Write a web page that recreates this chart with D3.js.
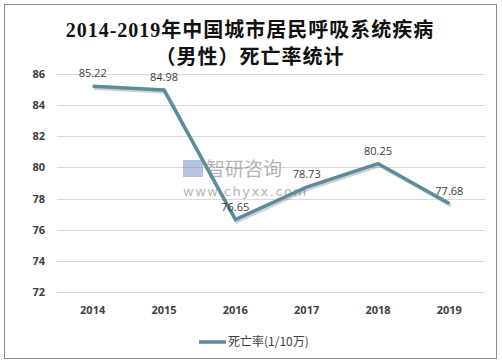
<!DOCTYPE html>
<html>
<head>
<meta charset="utf-8">
<script src="https://cdn.jsdelivr.net/npm/d3@7"></script>
<style>
  body { margin: 0; background: #fff; }
  svg { display: block; }
</style>
</head>
<body>
<script>
const years = ['2014', '2015', '2016', '2017', '2018', '2019'];
const rates = [85.22, 84.98, 76.65, 78.73, 80.25, 77.68];
const yTicks = [72, 74, 76, 78, 80, 82, 84, 86];
const titleLines = ['2014-2019年中国城市居民呼吸系统疾病', '（男性）死亡率统计'];
const seriesName = '死亡率(1/10万)';

const width = 502, height = 364;
const margin = {left: 57, right: 17, top: 74, bottom: 72};
const lineColor = '#5a8c9c';

const svg = d3.select('body').append('svg')
    .attr('width', width)
    .attr('height', height);

// frame
svg.append('rect')
    .attr('x', 4.5).attr('y', 4.5)
    .attr('width', 492).attr('height', 354)
    .attr('fill', '#fff')
    .attr('stroke', '#8a8a8a');

// title
svg.append('g').selectAll('text')
    .data(titleLines)
    .enter()
    .append('text')
    .attr('x', 250)
    .attr('y', (d, i) => 37 + i * 27)
    .attr('text-anchor', 'middle')
    .attr('font-family', '"Liberation Serif", "Noto Sans CJK SC", serif')
    .attr('font-size', 20)
    .attr('letter-spacing', 1)
    .attr('font-weight', 'bold')
    .attr('fill', '#111')
    .text(d => d);

const x = d3.scaleBand()
    .domain(years)
    .range([margin.left, width - margin.right]);

const y = d3.scaleLinear()
    .domain([72, 86])
    .range([height - margin.bottom, margin.top]);

// gridlines
svg.append('g').selectAll('line')
    .data(yTicks)
    .enter()
    .append('line')
    .attr('x1', margin.left)
    .attr('x2', width - margin.right)
    .attr('y1', d => Math.round(y(d)) + 0.5)
    .attr('y2', d => Math.round(y(d)) + 0.5)
    .attr('stroke', '#d9d9d9');

// y labels
svg.append('g').selectAll('text')
    .data(yTicks)
    .enter()
    .append('text')
    .attr('x', 45)
    .attr('y', d => y(d) + 4)
    .attr('text-anchor', 'end')
    .attr('font-family', '"Open Sans", "DejaVu Sans", sans-serif')
    .attr('font-size', 11)
    .attr('font-weight', 'bold')
    .attr('fill', '#404040')
    .text(d => d);

// x labels
svg.append('g').selectAll('text')
    .data(years)
    .enter()
    .append('text')
    .attr('x', d => x(d) + x.bandwidth() / 2)
    .attr('y', height - margin.bottom + 22)
    .attr('text-anchor', 'middle')
    .attr('font-family', '"Open Sans", "DejaVu Sans", sans-serif')
    .attr('font-size', 11)
    .attr('font-weight', 'bold')
    .attr('fill', '#404040')
    .text(d => d);

// watermark
const wm = svg.append('g').attr('opacity', 0.55);
wm.append('rect').attr('x', 183).attr('y', 160).attr('width', 20).attr('height', 17).attr('fill', '#7b94c4');
wm.append('text')
    .attr('x', 206).attr('y', 176)
    .attr('font-family', '"Noto Sans CJK SC", sans-serif')
    .attr('font-size', 19)
    .attr('fill', '#777')
    .text('智研咨询');
wm.append('text')
    .attr('x', 183).attr('y', 196)
    .attr('font-family', '"DejaVu Sans", sans-serif')
    .attr('font-size', 13)
    .attr('letter-spacing', 1.5)
    .attr('fill', '#777')
    .text('www.chyxx.com');

const pts = years.map((d, i) => [x(d) + x.bandwidth() / 2, y(rates[i])]);

// shadow
svg.append('path')
    .attr('d', d3.line()(pts.map(p => [p[0] + 1.5, p[1] + 2])))
    .attr('fill', 'none')
    .attr('stroke', 'rgba(0,0,0,0.18)')
    .attr('stroke-width', 3.5)
    .attr('stroke-linejoin', 'miter');

svg.append('path')
    .attr('d', d3.line()(pts))
    .attr('fill', 'none')
    .attr('stroke', lineColor)
    .attr('stroke-width', 3.5)
    .attr('stroke-linejoin', 'miter');

// value labels
svg.append('g').selectAll('text')
    .data(rates)
    .enter()
    .append('text')
    .attr('x', (d, i) => pts[i][0])
    .attr('y', (d, i) => pts[i][1] - 9)
    .attr('text-anchor', 'middle')
    .attr('font-family', '"Open Sans", "DejaVu Sans", sans-serif')
    .attr('font-size', 11)
    .attr('fill', '#404040')
    .text(d => d.toFixed(2));

// legend
svg.append('line')
    .attr('x1', 199).attr('x2', 226)
    .attr('y1', 342).attr('y2', 342)
    .attr('stroke', lineColor)
    .attr('stroke-width', 3.5);
svg.append('text')
    .attr('x', 228).attr('y', 346)
    .attr('font-family', '"Noto Sans CJK SC", sans-serif')
    .attr('font-size', 12)
    .attr('fill', '#404040')
    .text(seriesName);
</script>
</body>
</html>
